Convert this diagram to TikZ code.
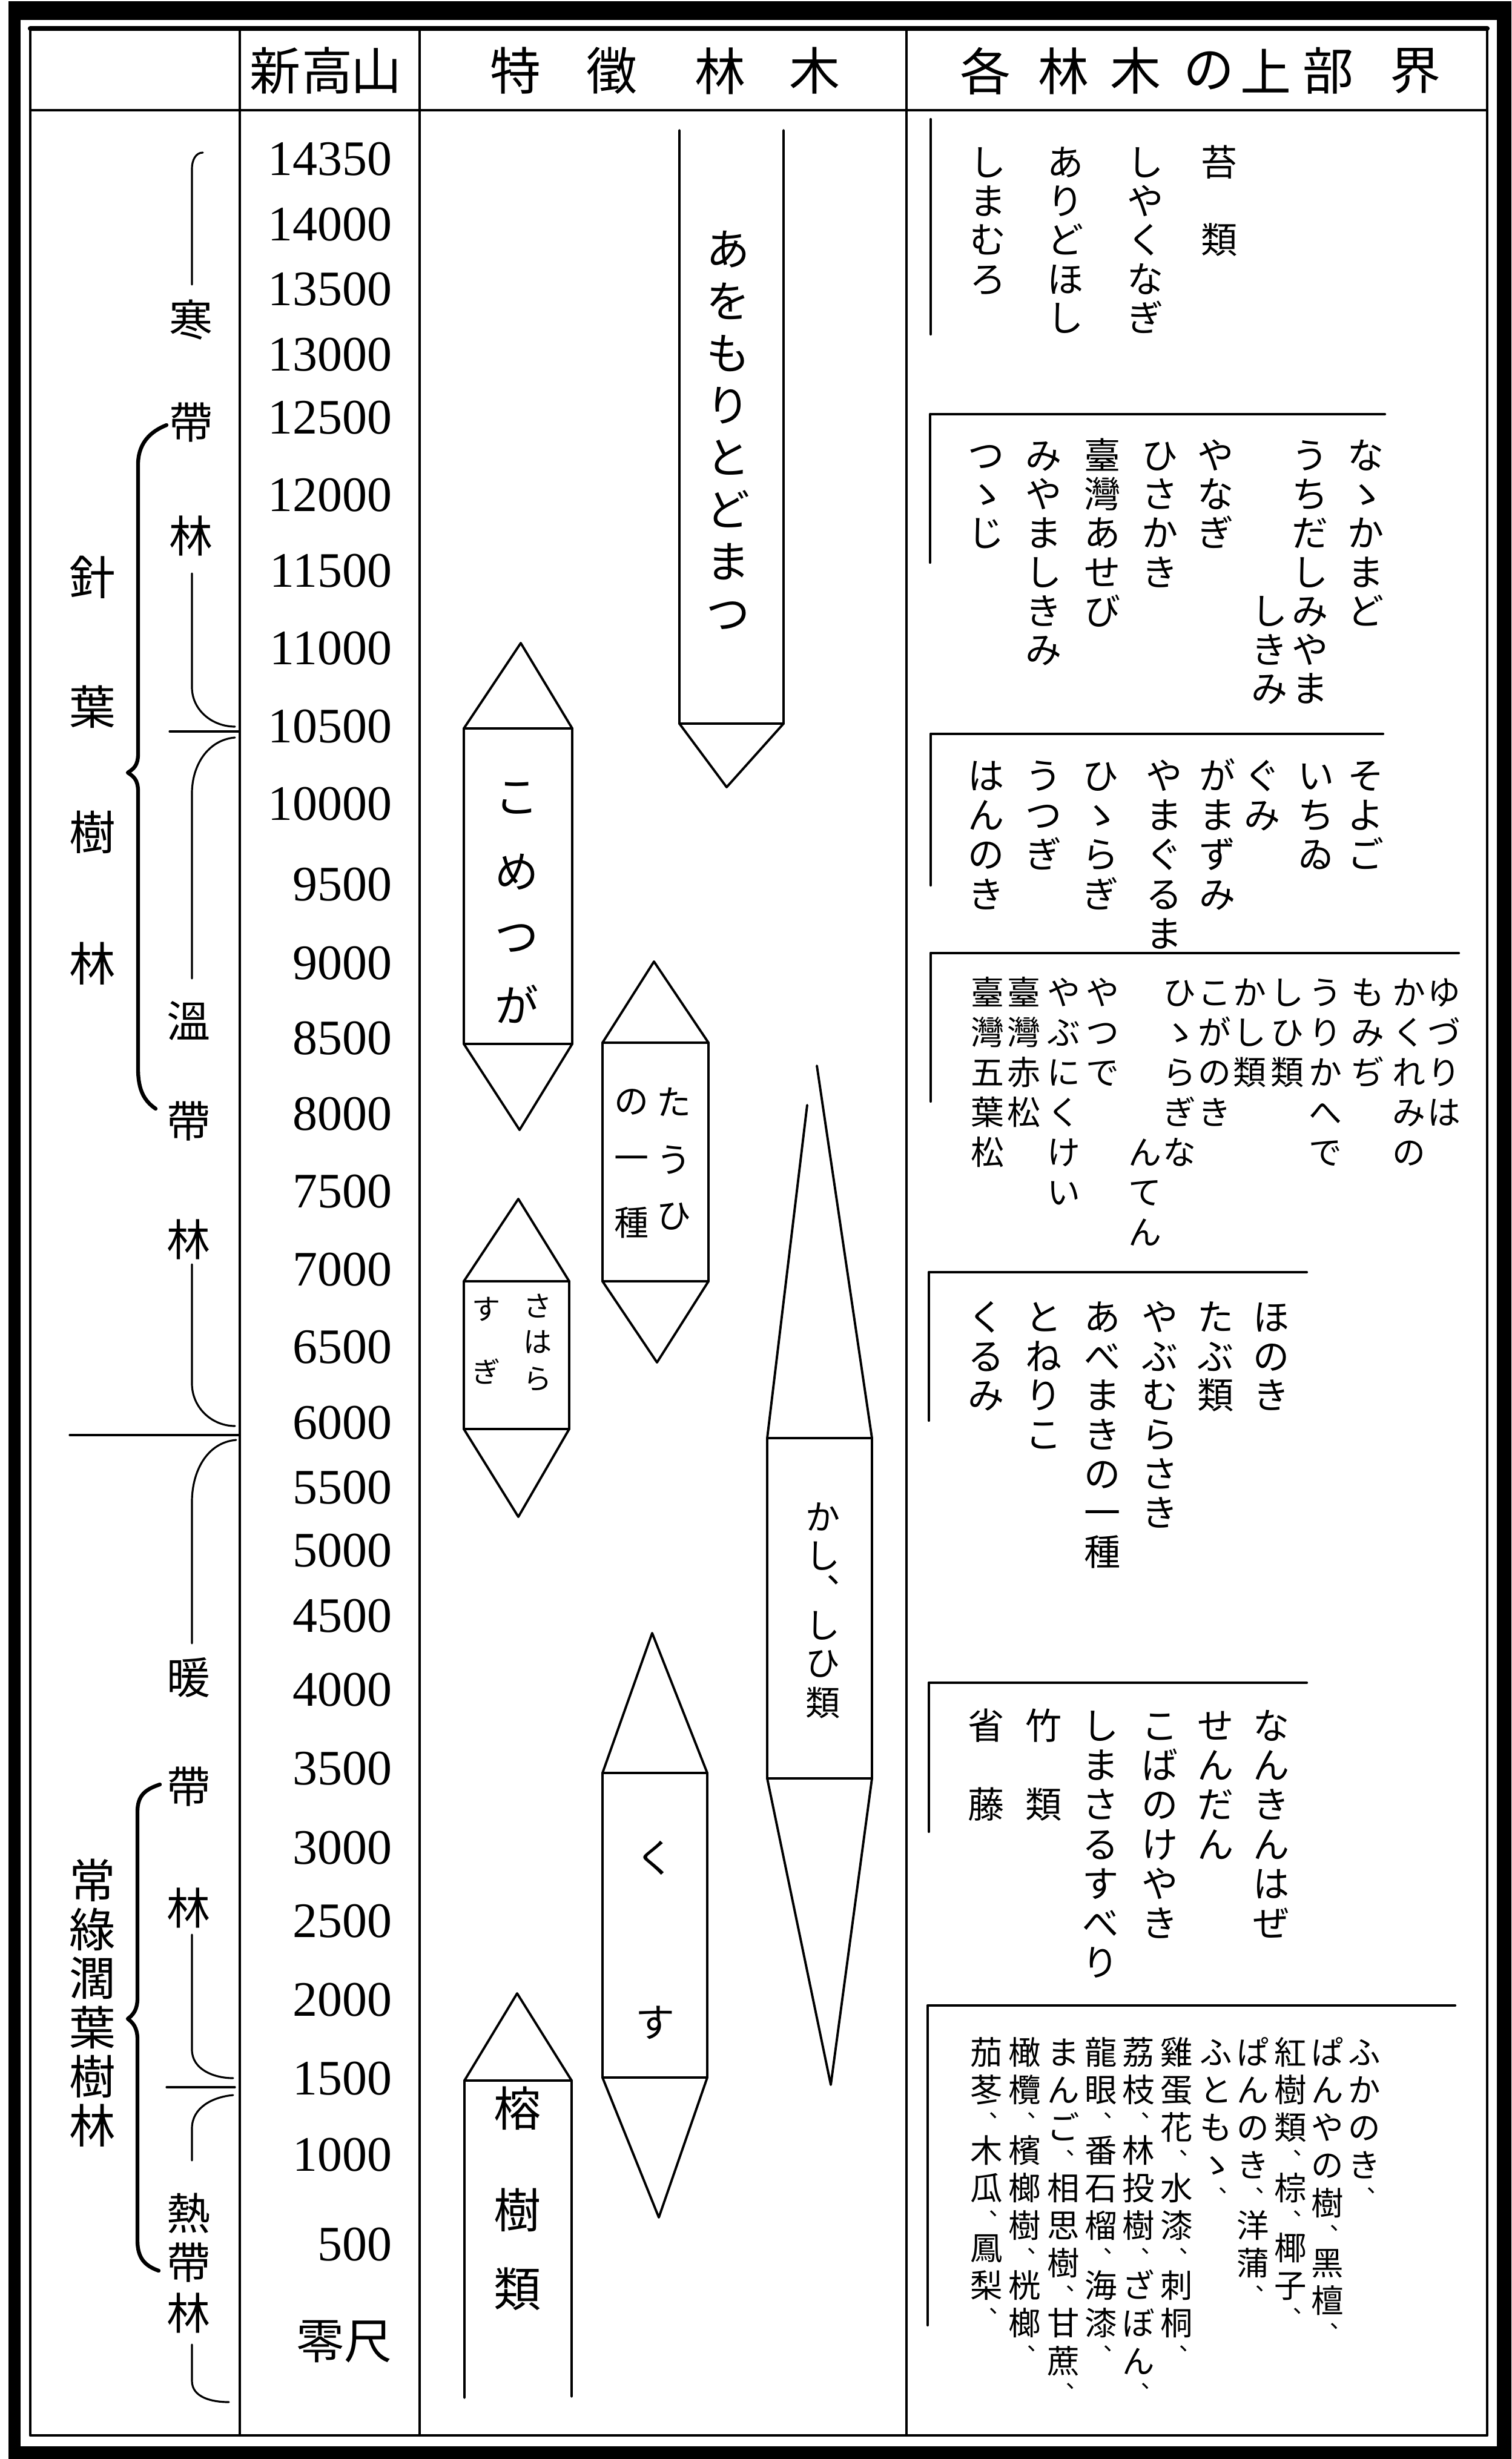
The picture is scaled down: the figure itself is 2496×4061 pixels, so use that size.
\documentclass[tikz,border=0pt]{standalone}
\usepackage{fontspec}
\setmainfont{Liberation Serif}
\newfontfamily\jp{Noto Sans CJK JP}
\newdimen\vtgap
\def\bk{\mbox{}}
\def\vtcell#1{\hbox to 1em{\hss\vrule height .88em depth .12em width 0pt\relax#1\hss}}
\def\vtcomma#1{\begingroup\edef\cmsz{\the\dimexpr 0.7em\relax}\hbox to 1em{\hss\fontsize{\cmsz}{\cmsz}\selectfont\vrule height .88em depth .12em width 0pt\relax#1\hss}\endgroup}
\def\vtchar#1{\ifx#1︑\vtcomma{#1}\else\vtcell{#1}\kern\vtgap\fi}
\def\vtloop#1{\ifx#1\relax\else\vtchar{#1}\expandafter\vtloop\fi}
\newcommand\vt[1]{\vbox{\offinterlineskip\vtloop#1\relax}}
\tikzset{
 hd/.style={font={\jp\fontsize{23.9pt}{23.9pt}\selectfont}, inner sep=0},
 num/.style={font={\fontsize{23.3pt}{23.3pt}\selectfont}, inner sep=0, anchor=east},
 jnum/.style={font={\jp\fontsize{22.5pt}{22.5pt}\selectfont}, inner sep=0, anchor=east},
 zone/.style={font={\jp\fontsize{20.5pt}{20.5pt}\selectfont}, inner sep=0},
 big/.style={font={\jp\fontsize{21.8pt}{21.8pt}\selectfont}, inner sep=0},
 blk/.style={font={\jp\fontsize{17.1pt}{17.1pt}\selectfont\vtgap=#1}, inner sep=0, anchor=north},
 blks/.style={font={\jp\fontsize{15.6pt}{15.6pt}\selectfont\vtgap=#1}, inner sep=0, anchor=north},
 blkt/.style={font={\jp\fontsize{15.2pt}{15.2pt}\selectfont\vtgap=#1}, inner sep=0, anchor=north},
 sA/.style={font={\jp\fontsize{20.5pt}{20.5pt}\selectfont\vtgap=0.14cm}, inner sep=0, anchor=north},
 s72/.style={font={\jp\fontsize{20.5pt}{20.5pt}\selectfont}, inner sep=0},
 s57/.style={font={\jp\fontsize{16.2pt}{16.2pt}\selectfont}, inner sep=0},
 s47/.style={font={\jp\fontsize{13.4pt}{13.4pt}\selectfont}, inner sep=0},
 s65/.style={font={\jp\fontsize{18.5pt}{18.5pt}\selectfont}, inner sep=0},
 s78/.style={font={\jp\fontsize{22.2pt}{22.2pt}\selectfont}, inner sep=0},
 rule/.style={line width=1.2pt},
 treeln/.style={line width=1.1pt},
 zb/.style={line width=0.9pt},
 brace/.style={line width=1.8pt},
}
\begin{document}
\begin{tikzpicture}[x=0.01cm,y=-0.01cm,line cap=round,line join=round]
\useasboundingbox (0,0) rectangle (2496,4061);
\fill[white] (0,0) rectangle (2496,4061);
% ---------- frame ----------
\fill (14,2) rectangle (2496,33);
\fill (14,2) rectangle (34,4061);
\fill (14,4040) rectangle (2496,4061);
\fill (2472,2) rectangle (2496,4061);
\draw[rule] (50,47) rectangle (2456,4022);
\draw[line width=2.3pt] (50,47) -- (2456,47);
\draw[rule] (50,182) -- (2456,182);
\draw[rule] (396,47) -- (396,4022);
\draw[rule] (693,47) -- (693,4022);
\draw[rule] (1497,47) -- (1497,4022);
% ---------- header ----------
\node[hd] (h1) at (455,117) {新};
\node[hd] (h2) at (541,117) {高};
\node[hd] (h3) at (622,117) {山};
\node[hd] (h4) at (852,117) {特};
\node[hd] (h5) at (1011,117) {徵};
\node[hd] (h6) at (1190,117) {林};
\node[hd] (h7) at (1346,117) {木};
\node[hd] (h8) at (1628,117) {各};
\node[hd] (h9) at (1756,117) {林};
\node[hd] (h10) at (1875,117) {木};
\node[hd] (h11) at (1996,117) {の};
\node[hd] (h12) at (2090,117) {上};
\node[hd] (h13) at (2193,117) {部};
\node[hd] (h14) at (2337,117) {界};
% ---------- altitudes ----------
\foreach \v/\y [count=\i] in {14350/263,14000/371,13500/478,13000/586,12500/690,12000/818,11500/943,11000/1071,10500/1200,10000/1328,9500/1461,9000/1591,8500/1715,8000/1840,7500/1968,7000/2097,6500/2225,6000/2350,5500/2457,5000/2561,4500/2669,4000/2791,3500/2921,3000/3052,2500/3173,2000/3303,1500/3433,1000/3559,500/3707}
  \node[num] (n\i) at (648,\y) {\v};
\node[jnum] (n30) at (648,3867) {零尺};
% ---------- zone labels ----------
\node[zone] (z1) at (316,528) {寒};
\node[zone] (z2) at (316,698) {帶};
\node[zone] (z3) at (316,885) {林};
\node[zone] (z4) at (312,1686) {溫};
\node[zone] (z5) at (312,1852) {帶};
\node[zone] (z6) at (312,2047) {林};
\node[zone] (z7) at (312,2770) {暖};
\node[zone] (z8) at (312,2951) {帶};
\node[zone] (z9) at (312,3151) {林};
\node[zone] (z10) at (312,3655) {熱};
\node[zone] (z11) at (312,3737) {帶};
\node[zone] (z12) at (312,3820) {林};
\node[big] (k1) at (153,953) {針};
\node[big] (k2) at (153,1167) {葉};
\node[big] (k3) at (153,1374) {樹};
\node[big] (k4) at (153,1591) {林};
\foreach \c/\y [count=\i] in {常/3105,綠/3186,濶/3267,葉/3348,樹/3429,林/3510}
  \node[big] (e\i) at (153,\y) {\c};
% ---------- zone brackets ----------
\draw[zb] (335,252) to[out=180,in=90] (317,278) -- (317,470);
\draw[zb] (317,947) -- (317,1135) to[out=-90,in=180] (388,1200);
\draw[zb] (280,1208) -- (394,1208);
\draw[zb] (388,1218) to[out=185,in=90] (317,1310) -- (317,1616);
\draw[zb] (317,2088) -- (317,2285) to[out=-90,in=180] (388,2355);
\draw[zb] (115,2370) -- (396,2370);
\draw[zb] (390,2378) to[out=185,in=90] (317,2480) -- (317,2714);
\draw[zb] (317,3195) -- (317,3385) to[out=-90,in=180] (385,3432);
\draw[zb] (275,3447) -- (388,3447);
\draw[zb] (385,3460) to[out=185,in=90] (317,3515) -- (317,3568);
\draw[zb] (317,3872) -- (317,3932) to[out=-90,in=180] (378,3967);
% outer braces
\draw[brace] (275,702) .. controls (250,712) and (229,730) .. (228,765) -- (228,1245)
  .. controls (228,1265) and (220,1270) .. (211,1276) .. controls (220,1282) and (228,1287) .. (228,1307)
  -- (228,1765) .. controls (228,1800) and (238,1818) .. (257,1831);
\draw[brace] (264,2947) .. controls (240,2955) and (227,2965) .. (227,2992) -- (227,3300)
  .. controls (227,3320) and (219,3328) .. (211,3334) .. controls (219,3340) and (227,3348) .. (227,3368)
  -- (227,3700) .. controls (227,3730) and (240,3742) .. (262,3750);
% ---------- tree shapes ----------
\draw[treeln] (1122,215) -- (1122,1195) -- (1200,1300) -- (1294,1195) -- (1294,215);
\draw[treeln] (1122,1195) -- (1294,1195);
\draw[treeln] (766,1203) -- (860,1062) -- (945,1203) -- (945,1724) -- (858,1866) -- (766,1724) -- cycle;
\draw[treeln] (766,1203) -- (945,1203) (766,1724) -- (945,1724);
\draw[treeln] (995,1722) -- (1080,1588) -- (1170,1722) -- (1170,2116) -- (1085,2250) -- (995,2116) -- cycle;
\draw[treeln] (995,1722) -- (1170,1722) (995,2116) -- (1170,2116);
\draw[treeln] (766,2116) -- (856,1980) -- (940,2116) -- (940,2360) -- (856,2505) -- (766,2360) -- cycle;
\draw[treeln] (766,2116) -- (940,2116) (766,2360) -- (940,2360);
\draw[treeln] (1333,1825) -- (1267,2375) -- (1267,2937) -- (1372,3443) -- (1440,2937) -- (1440,2375) -- (1349,1760);
\draw[treeln] (1267,2375) -- (1440,2375) (1267,2937) -- (1440,2937);
\draw[treeln] (995,2928) -- (1077,2697) -- (1168,2928) -- (1168,3431) -- (1088,3662) -- (995,3431) -- cycle;
\draw[treeln] (995,2928) -- (1168,2928) (995,3431) -- (1168,3431);
\draw[treeln] (767,3960) -- (767,3436) -- (854,3292) -- (944,3436) -- (944,3958);
\draw[treeln] (767,3436) -- (944,3436);
% shape texts
\node[sA] (tA) at (1203,374) {\vt{あをもりとどまつ}};
\node[s72] (tB1) at (854,1318) {こ};
\node[s72] (tB2) at (854,1440) {め};
\node[s72] (tB3) at (854,1550) {つ};
\node[s72] (tB4) at (854,1658) {が};
\node[s57] (tC1) at (1113,1820) {た};
\node[s57] (tC2) at (1113,1916) {う};
\node[s57] (tC3) at (1113,2009) {ひ};
\node[s57] (tC4) at (1043,1820) {の};
\node[s57] (tC5) at (1043,1921) {一};
\node[s57] (tC6) at (1043,2019) {種};
\node[s47] (tD1) at (888,2157) {さ};
\node[s47] (tD2) at (888,2216) {は};
\node[s47] (tD3) at (888,2278) {ら};
\node[s47] (tD4) at (803,2162) {す};
\node[s47] (tD5) at (803,2265) {ぎ};
\node[s57] (tE1) at (1359,2505) {か};
\node[s57] (tE2) at (1359,2570) {し};
\node[s57] (tE3) at (1359,2625) {︑};
\node[s57] (tE4) at (1359,2685) {し};
\node[s57] (tE5) at (1359,2748) {ひ};
\node[s57] (tE6) at (1359,2812) {類};
\node[s65] (tF1) at (1082,3068) {く};
\node[s65] (tF2) at (1082,3340) {す};
\node[s78] (tG1) at (855,3482) {榕};
\node[s78] (tG2) at (855,3650) {樹};
\node[s78] (tG3) at (855,3780) {類};
% ---------- upper limit blocks ----------
\draw[rule] (1537,197) -- (1537,552);
\draw[rule] (1537,684) -- (2287,684) (1536,684) -- (1536,929);
\draw[rule] (1537,1212) -- (2284,1212) (1537,1212) -- (1537,1462);
\draw[rule] (1537,1574) -- (2409,1574) (1537,1574) -- (1537,1819);
\draw[rule] (1534,2101) -- (2158,2101) (1534,2101) -- (1534,2346);
\draw[rule] (1534,2779) -- (2158,2779) (1534,2779) -- (1534,3025);
\draw[rule] (1532,3312) -- (2403,3312) (1532,3312) -- (1532,3840);
% block 1
\node[blk=0.04cm] (a1) at (2014,237) {\vt{苔\bk 類}};
\node[blk=0.04cm] (a2) at (1892,237) {\vt{しやくなぎ}};
\node[blk=0.04cm] (a3) at (1760,237) {\vt{ありどほし}};
\node[blk=0.04cm] (a4) at (1632,237) {\vt{しまむろ}};
% block 2
\node[blk=0.04cm] (b1) at (2256,721) {\vt{なゝかまど}};
\node[blk=0.04cm] (b2) at (2164,721) {\vt{うちだしみやま}};
\node[blk=0.04cm] (b3) at (2097,721) {\vt{\bk\bk\bk\bk しきみ}};
\node[blk=0.04cm] (b4) at (2008,721) {\vt{やなぎ}};
\node[blk=0.04cm] (b5) at (1916,721) {\vt{ひさかき}};
\node[blk=0.04cm] (b6) at (1821,721) {\vt{臺灣あせび}};
\node[blk=0.04cm] (b7) at (1724,721) {\vt{みやましきみ}};
\node[blk=0.04cm] (b8) at (1629,721) {\vt{つゝじ}};
% block 3
\node[blk=0.05cm] (c1) at (2256,1250) {\vt{そよご}};
\node[blk=0.05cm] (c2) at (2174,1250) {\vt{いちゐ}};
\node[blk=0.05cm] (c3) at (2085,1250) {\vt{ぐみ}};
\node[blk=0.05cm] (c4) at (2011,1250) {\vt{がまずみ}};
\node[blk=0.05cm] (c5) at (1923,1250) {\vt{やまぐるま}};
\node[blk=0.05cm] (c6) at (1818,1250) {\vt{ひゝらぎ}};
\node[blk=0.05cm] (c7) at (1724,1250) {\vt{うつぎ}};
\node[blk=0.05cm] (c8) at (1629,1250) {\vt{はんのき}};
% block 4
\node[blks=0.11cm] (d1) at (2385,1611) {\vt{ゆづりは}};
\node[blks=0.11cm] (d2) at (2327,1611) {\vt{かくれみの}};
\node[blks=0.11cm] (d3) at (2259,1611) {\vt{もみぢ}};
\node[blks=0.11cm] (d4) at (2189,1611) {\vt{うりかへで}};
\node[blks=0.11cm] (d5) at (2126,1611) {\vt{しひ類}};
\node[blks=0.11cm] (d6) at (2064,1611) {\vt{かし類}};
\node[blks=0.11cm] (d7) at (2006,1611) {\vt{こがのき}};
\node[blks=0.11cm] (d8) at (1948,1611) {\vt{ひゝらぎな}};
\node[blks=0.11cm] (d9) at (1891,1611) {\vt{\bk\bk\bk\bk んてん}};
\node[blks=0.11cm] (d10) at (1821,1611) {\vt{やつで}};
\node[blks=0.11cm] (d11) at (1757,1611) {\vt{やぶにくけい}};
\node[blks=0.11cm] (d12) at (1691,1611) {\vt{臺灣赤松}};
\node[blks=0.11cm] (d13) at (1631,1611) {\vt{臺灣五葉松}};
% block 5
\node[blk=0.045cm] (f1) at (2100,2144) {\vt{ほのき}};
\node[blk=0.045cm] (f2) at (2008,2144) {\vt{たぶ類}};
\node[blk=0.045cm] (f3) at (1916,2144) {\vt{やぶむらさき}};
\node[blk=0.045cm] (f4) at (1821,2144) {\vt{あべまきの一種}};
\node[blk=0.045cm] (f5) at (1724,2144) {\vt{とねりこ}};
\node[blk=0.045cm] (f6) at (1629,2144) {\vt{くるみ}};
% block 6
\node[blk=0.05cm] (g1) at (2100,2819) {\vt{なんきんはぜ}};
\node[blk=0.05cm] (g2) at (2008,2819) {\vt{せんだん}};
\node[blk=0.05cm] (g3) at (1916,2819) {\vt{こばのけやき}};
\node[blk=0.05cm] (g4) at (1818,2819) {\vt{しまさるすべり}};
\node[blk=0.05cm] (g5) at (1724,2819) {\vt{竹\bk 類}};
\node[blk=0.05cm] (g6) at (1629,2819) {\vt{省\bk 藤}};
% block 7
\node[blkt=0.086cm] (m1) at (2253,3362) {\vt{ふかのき︑}};
\node[blkt=0.086cm] (m2) at (2192,3362) {\vt{ぱんやの樹︑黑檀︑}};
\node[blkt=0.086cm] (m3) at (2131,3362) {\vt{紅樹類︑棕︑椰子︑}};
\node[blkt=0.086cm] (m4) at (2069,3362) {\vt{ぱんのき︑洋蒲︑}};
\node[blkt=0.086cm] (m5) at (2008,3362) {\vt{ふともゝ︑}};
\node[blkt=0.086cm] (m6) at (1943,3362) {\vt{雞蛋花︑水漆︑刺桐︑}};
\node[blkt=0.086cm] (m7) at (1880,3362) {\vt{荔枝︑林投樹︑ざぼん︑}};
\node[blkt=0.086cm] (m8) at (1818,3362) {\vt{龍眼︑番石榴︑海漆︑}};
\node[blkt=0.086cm] (m9) at (1756,3362) {\vt{まんご︑相思樹︑甘蔗︑}};
\node[blkt=0.086cm] (m10) at (1692,3362) {\vt{橄欖︑檳榔樹︑桄榔︑}};
\node[blkt=0.086cm] (m11) at (1629,3362) {\vt{茄苳︑木瓜︑鳳梨︑}};
\end{tikzpicture}
\end{document}
